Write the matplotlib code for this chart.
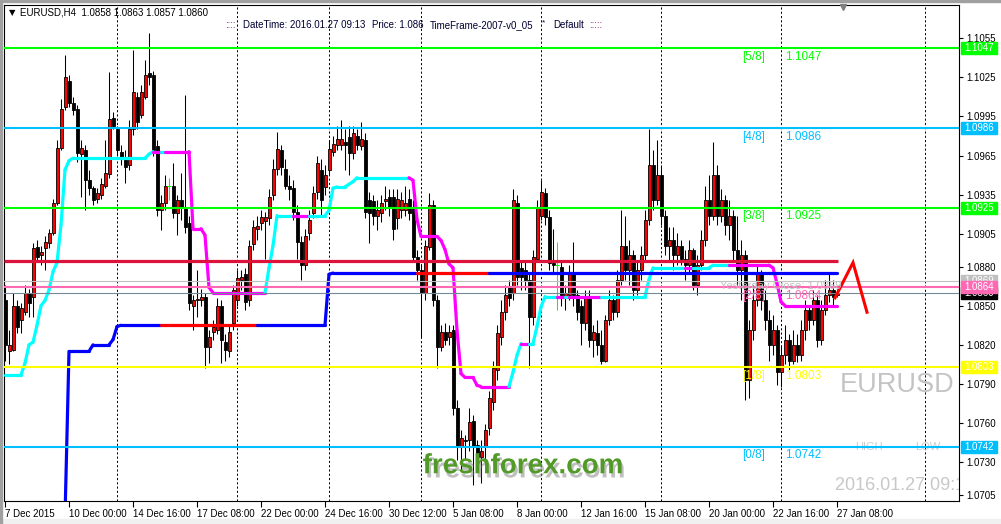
import numpy as np
import matplotlib
matplotlib.use('Agg')
import matplotlib.pyplot as plt
import matplotlib.patheffects as pe
from matplotlib.collections import LineCollection
from matplotlib.patches import Rectangle

plt.rcParams['font.family'] = ['Liberation Sans', 'DejaVu Sans']

W, H = 1001, 524

# EURUSD H4 candles, prices in pips (x 1e-4)
opens = [
    10854, 10815, 10816, 10850, 10839, 10845, 10860, 10857, 10895, 10889,
    10894, 10898, 10906, 10929, 10971, 11002, 11022, 11005, 11001, 10966,
    10969, 10946, 10940, 10932, 10935, 10942, 10951, 10994, 10985, 10968,
    10963, 10958, 10985, 11010, 10996, 11010, 11028, 11027, 10972, 10923,
    10929, 10942, 10942, 10921, 10931, 10925, 10913, 10850, 10854, 10854,
    10857, 10818, 10830, 10831, 10850, 10822, 10815, 10837, 10854, 10870,
    10874, 10854, 10897, 10909, 10913, 10915, 10917, 10935, 10955, 10969,
    10955, 10942, 10940, 10922, 10899, 10881, 10906, 10921, 10937, 10954,
    10941, 10954, 10968, 10973, 10973, 10975, 10979, 10967, 10980, 10972,
    10977, 10931, 10930, 10919, 10921, 10930, 10933, 10933, 10917, 10923,
    10923, 10932, 10925, 10887, 10877, 10860, 10895, 10927, 10854, 10818,
    10830, 10826, 10831, 10772, 10742, 10747, 10747, 10762, 10743, 10734,
    10742, 10756, 10776, 10801, 10826, 10845, 10864, 10860, 10929, 10879,
    10877, 10870, 10841, 10886, 10919, 10936, 10918, 10883, 10881, 10880,
    10856, 10858, 10874, 10858, 10850, 10837, 10857, 10824, 10829, 10820,
    10808, 10839, 10854, 10845, 10870, 10896, 10877, 10889, 10862, 10877,
    10889, 10916, 10958, 10931, 10950, 10919, 10896, 10900, 10889, 10896,
    10886, 10881, 10893, 10866, 10881, 10900, 10931, 10919, 10950, 10919,
    10931, 10912, 10919, 10893, 10877, 10889, 10793, 10831, 10854, 10874,
    10854, 10839, 10820, 10831, 10799, 10812, 10824, 10808, 10820, 10812,
    10831, 10847, 10839, 10854, 10824, 10847, 10858, 10862, 10858]
highs = [
    10866, 10831, 10860, 10854, 10852, 10866, 10863, 10898, 10900, 10896,
    10903, 10909, 10932, 10977, 11008, 11042, 11027, 11010, 11004, 10977,
    10973, 10954, 10942, 10940, 10948, 10977, 11029, 10998, 10988, 10973,
    10969, 10992, 11046, 11014, 11019, 11038, 11059, 11030, 10977, 10935,
    10950, 10948, 10959, 10935, 10952, 11011, 10919, 10858, 10877, 10863,
    10860, 10831, 10839, 10856, 10854, 10828, 10835, 10866, 10877, 10877,
    10879, 10900, 10916, 10919, 10923, 10922, 10939, 10962, 10983, 10973,
    10962, 10950, 10946, 10927, 10903, 10909, 10923, 10942, 10965, 10962,
    10958, 10977, 10980, 10988, 10992, 10985, 10988, 10988, 10985, 10991,
    10982, 10937, 10935, 10931, 10935, 10942, 10939, 10939, 10939, 10937,
    10942, 10939, 10931, 10893, 10881, 10900, 10936, 10931, 10858, 10835,
    10837, 10835, 10835, 10778, 10755, 10751, 10772, 10766, 10747, 10747,
    10759, 10785, 10808, 10835, 10854, 10866, 10870, 10939, 10935, 10885,
    10884, 10876, 10893, 10931, 10946, 10940, 10923, 10909, 10899, 10885,
    10866, 10881, 10899, 10862, 10854, 10862, 10862, 10835, 10839, 10831,
    10843, 10862, 10858, 10877, 10923, 10919, 10900, 10893, 10885, 10896,
    10923, 10985, 10969, 10977, 10958, 10923, 10910, 10910, 10906, 10900,
    10893, 10900, 10894, 10889, 10908, 10942, 10950, 10975, 10958, 10939,
    10935, 10931, 10923, 10919, 10900, 10893, 10839, 10866, 10881, 10877,
    10862, 10847, 10843, 10835, 10820, 10835, 10828, 10831, 10828, 10839,
    10854, 10850, 10862, 10858, 10854, 10870, 10874, 10870, 10863]
lows = [
    10808, 10805, 10815, 10829, 10829, 10843, 10841, 10841, 10884, 10881,
    10877, 10894, 10904, 10927, 10969, 11000, 11002, 10996, 10960, 10933,
    10923, 10935, 10927, 10929, 10932, 10940, 10948, 10985, 10965, 10958,
    10944, 10954, 10981, 10985, 10994, 11008, 11019, 10965, 10919, 10908,
    10923, 10931, 10917, 10904, 10916, 10906, 10847, 10831, 10841, 10850,
    10802, 10806, 10824, 10828, 10806, 10808, 10811, 10831, 10850, 10862,
    10847, 10850, 10893, 10900, 10908, 10886, 10912, 10931, 10950, 10950,
    10939, 10931, 10916, 10886, 10870, 10877, 10900, 10917, 10932, 10919,
    10935, 10950, 10965, 10969, 10969, 10954, 10950, 10962, 10969, 10969,
    10917, 10898, 10912, 10908, 10914, 10923, 10919, 10900, 10909, 10917,
    10919, 10916, 10884, 10870, 10826, 10854, 10893, 10850, 10802, 10815,
    10820, 10820, 10766, 10732, 10724, 10732, 10739, 10713, 10724, 10714,
    10732, 10751, 10770, 10793, 10820, 10839, 10850, 10854, 10866, 10862,
    10862, 10802, 10835, 10884, 10916, 10912, 10877, 10874, 10847, 10850,
    10847, 10854, 10850, 10839, 10820, 10831, 10818, 10811, 10812, 10805,
    10807, 10835, 10839, 10841, 10866, 10870, 10866, 10854, 10858, 10870,
    10885, 10912, 10923, 10927, 10912, 10889, 10885, 10877, 10881, 10881,
    10870, 10874, 10862, 10858, 10877, 10896, 10912, 10916, 10912, 10914,
    10904, 10900, 10885, 10866, 10854, 10778, 10779, 10824, 10850, 10847,
    10831, 10808, 10812, 10789, 10788, 10805, 10801, 10805, 10807, 10808,
    10824, 10831, 10835, 10818, 10820, 10843, 10853, 10850, 10857]
closes = [
    10820, 10820, 10850, 10834, 10848, 10860, 10852, 10894, 10887, 10891,
    10899, 10906, 10929, 10971, 11001, 11025, 11005, 11000, 10967, 10971,
    10946, 10940, 10931, 10936, 10943, 10952, 10993, 10988, 10969, 10963,
    10956, 10985, 11014, 10991, 11014, 11027, 11025, 10969, 10923, 10929,
    10942, 10942, 10921, 10931, 10925, 10910, 10852, 10854, 10855, 10857,
    10818, 10826, 10834, 10850, 10824, 10816, 10830, 10862, 10871, 10872,
    10853, 10896, 10910, 10911, 10918, 10918, 10933, 10955, 10970, 10956,
    10942, 10939, 10922, 10899, 10881, 10903, 10916, 10936, 10959, 10931,
    10950, 10970, 10974, 10978, 10978, 10973, 10967, 10982, 10973, 10978,
    10922, 10921, 10919, 10923, 10929, 10932, 10925, 10909, 10932, 10931,
    10929, 10921, 10887, 10877, 10860, 10896, 10927, 10854, 10818, 10830,
    10824, 10830, 10772, 10742, 10749, 10746, 10761, 10742, 10734, 10739,
    10755, 10779, 10802, 10829, 10845, 10858, 10856, 10931, 10872, 10872,
    10870, 10841, 10887, 10925, 10937, 10918, 10883, 10881, 10881, 10858,
    10860, 10874, 10858, 10845, 10837, 10856, 10824, 10830, 10820, 10808,
    10839, 10854, 10845, 10870, 10896, 10877, 10889, 10862, 10877, 10889,
    10916, 10958, 10931, 10950, 10919, 10896, 10900, 10889, 10896, 10886,
    10881, 10893, 10866, 10881, 10900, 10931, 10919, 10950, 10919, 10931,
    10912, 10919, 10893, 10877, 10889, 10793, 10831, 10854, 10874, 10854,
    10839, 10820, 10831, 10799, 10812, 10824, 10808, 10820, 10812, 10831,
    10847, 10839, 10854, 10824, 10847, 10858, 10862, 10857, 10860]

# trailing line (cyan = up, magenta = down), pips per bar
trend_vals = ([10797] * 5 + [10806, 10820, 10822, 10835, 10850, 10854, 10862, 10876, 10883, 10912, 10954, 10961]
              + [10963] * 19 + [10966] + [10968] * 10 + [10909] * 3 + [10904, 10864] + [10860] * 14
              + [10879, 10896] + [10919] * 13 + [10923, 10940] + [10941] * 3 + [10943, 10945] + [10948] * 14
              + [10946, 10916] + [10903] * 5 + [10900, 10893, 10882, 10879, 10831, 10798] + [10795] * 3
              + [10789] + [10788] * 8 + [10799, 10812] + [10821] * 4 + [10834, 10849] + [10857] * 26
              + [10870] + [10879] * 15 + [10881] * 15 + [10879, 10867, 10853] + [10850] * 14)
trend_cols = ('c' * 38 + 'm' * 2 + 'c' + 'm' * 25 + 'c' * 7 + 'm' * 4 + 'c' * 25 + 'm' * 25 + 'c' * 3
              + 'm' * 2 + 'c' * 7 + 'm' * 2 + 'c' + 'm' * 8 + 'c' * 21 + 'm' * 2 + 'c' * 9 + 'm' * 27)

# stop line (blue / red)
stop_vals = ([np.nan] * 15 + [10688] + [10815] * 6 + [10820] * 5 + [10824, 10834] + [10835] * 52
             + [10874] + [10875] * 127)
stop_cols = 'b' * 40 + 'r' * 24 + 'b' * 40 + 'r' * 18 + 'b' * 87

zig_bars = [207.5, 212, 215.5]
zig_prices = [1.0856, 1.0883, 1.0845]

murrey_names = ['[5/8]', '[4/8]', '[3/8]', '[2/8]', '[1/8]', '[0/8]']
murrey_levels = [1.1047, 1.0986, 1.0925, 1.0864, 1.0803, 1.0742]
murrey_colors = ['#00ff00', '#00bfff', '#00ff00', '#ff69b4', '#ffff00', '#00bfff']
pivot_level = 1.0884
yesterday_close = 1.0869
bid = 1.0860

price_ticks = [1.1055, 1.1025, 1.0995, 1.0965, 1.0935, 1.0905, 1.0880,
               1.0850, 1.0820, 1.0790, 1.0760, 1.0730, 1.0705]
time_labels = ['7 Dec 2015', '10 Dec 00:00', '14 Dec 16:00', '17 Dec 08:00', '22 Dec 00:00',
               '24 Dec 16:00', '30 Dec 12:00', '5 Jan 08:00', '8 Jan 00:00', '12 Jan 16:00',
               '15 Jan 08:00', '20 Jan 00:00', '22 Jan 16:00', '27 Jan 08:00']
grid_bars = [28, 58, 81, 104, 134, 164, 194, 230]

o = np.array(opens) / 1e4
h = np.array(highs) / 1e4
l = np.array(lows) / 1e4
c = np.array(closes) / 1e4
x = np.arange(len(o))

fig = plt.figure(figsize=(W / 100, H / 100), dpi=100)
fig.patches.append(Rectangle((0, 0), 1, 5 / H, transform=fig.transFigure, color='#f0f0f0'))
fig.patches.append(Rectangle((0, 0), 2 / W, 1, transform=fig.transFigure, color='#a0a0a0'))
fig.patches.append(Rectangle((0, 1 - 2 / H), 1, 2 / H, transform=fig.transFigure, color='#a0a0a0'))

ax = fig.add_axes([4 / W, 1 - 501 / H, 955 / W, 496 / H])
ax.set_xlim(-0.25, 238.5)
ax.set_ylim(1.07004, 1.10803)
for s in ax.spines.values():
    s.set_linewidth(0.8)
    s.set_color('black')

for b in grid_bars:
    ax.axvline(b, color='black', lw=0.7, ls=(0, (2.2, 2.2)), zorder=1)

# candles
up = c > o
dn = c < o
dj = c == o
ax.vlines(x[~dj], l[~dj], h[~dj], color='black', lw=0.75, zorder=2)
ax.bar(x[up], (c - o)[up], bottom=o[up], width=0.75, color='red', edgecolor='black', lw=0.6, zorder=3)
ax.bar(x[dn], (o - c)[dn], bottom=c[dn], width=0.75, color='black', edgecolor='black', lw=0.6, zorder=3)
ax.vlines(x[dj], l[dj], h[dj], color='#00ff00', lw=0.75, zorder=3)
ax.hlines(c[dj], x[dj] - 0.45, x[dj] + 0.45, color='#00ff00', lw=0.75, zorder=3)


def colored_line(vals, flags, cmap, lw, z):
    v = np.array(vals, float) / 1e4
    segs, cols = [], []
    for i in range(len(v) - 1):
        if np.isnan(v[i]) or np.isnan(v[i + 1]):
            continue
        segs.append([(i, v[i]), (i + 1, v[i + 1])])
        cols.append(cmap[flags[i + 1]])
    ax.add_collection(LineCollection(segs, colors=cols, linewidths=lw, zorder=z, capstyle='round'))


colored_line(trend_vals, trend_cols, {'c': '#00ffff', 'm': '#ff00ff'}, 2.3, 4)
colored_line(stop_vals, stop_cols, {'b': '#0000ff', 'r': '#ff0000'}, 2.3, 4.1)

# horizontal levels
ax.axhline(yesterday_close, color='#c0c0c0', lw=0.8, zorder=5)
ax.axhline(bid, color='#778899', lw=0.8, zorder=5)
for lev, col in zip(murrey_levels, murrey_colors):
    ax.axhline(lev, color=col, lw=1.5, zorder=5)
ax.hlines(pivot_level, -0.25, 208.25, color='#dc143c', lw=2.3, zorder=5.2)
ax.plot(zig_bars, zig_prices, color='#ff0000', lw=2.2, zorder=6, solid_joinstyle='miter')

ax.text(178.75, 1.0865, 'Yesterday Close: 1.0869', color='#c0c0c0', fontsize=8, va='center', zorder=6)
for name, lev, col in zip(murrey_names, murrey_levels, murrey_colors):
    ax.text(184.25, lev - 0.0002, name, color=col, fontsize=8.5, va='top', ha='left', zorder=7)
    ax.text(195, lev - 0.0002, f'{lev:.4f}', color=col, fontsize=8.5, va='top', ha='left', zorder=7)

ax.text(222.9, 1.0789, 'EURUSD', color='#c4c4c4', fontsize=19.5, ha='center', va='center', zorder=6)
ax.text(212.5, 1.0742, 'HIGH', color='#cccccc', fontsize=8, ha='left', va='center', zorder=4.5)
ax.text(227.5, 1.0742, 'LOW', color='#cccccc', fontsize=8, ha='left', va='center', zorder=4.5)
ax.text(207.5, 1.0712, '2016.01.27 09:13', color='#c8c8c8', fontsize=13, ha='left', va='center',
        zorder=6, clip_on=True)
ax.text(129.5, 1.0727, 'freshforex.com', color='#519a28', fontsize=20, fontweight='bold',
        ha='center', va='center', zorder=8,
        path_effects=[pe.SimplePatchShadow(offset=(1.5, -3), shadow_rgbFace='#808080', alpha=0.5),
                      pe.Normal()])
ax.plot([209.5], [1.10788], marker='v', color='#808080', ms=5, clip_on=False, zorder=9)

# axes ticks
ax.yaxis.tick_right()
ax.set_yticks(price_ticks)
ax.set_yticklabels([f'{p:.4f}' for p in price_ticks])
ax.tick_params(axis='y', direction='out', length=3, width=0.8, pad=2, labelsize=7)
ax.set_xticks(np.arange(0, len(o), 16))
ax.set_xticklabels(time_labels)
ax.tick_params(axis='x', direction='out', length=4, width=0.8, pad=1.5, labelsize=7)
for lbl in ax.get_xticklabels():
    lbl.set_ha('left')

# price boxes on the right scale
tr = ax.get_yaxis_transform()
bw = 36 / 955
px_h = 1 / 13056
boxes = [(1.1047, '#00ff00'), (1.0986, '#00bfff'), (1.0925, '#00ff00'), (1.0869, '#c0c0c0'),
         (1.0860, 'black'), (1.0864, '#ff69b4'), (1.0803, '#ffff00'), (1.0742, '#00bfff')]
for k, (p, col) in enumerate(boxes):
    ax.add_patch(Rectangle((957 / 955, p - 6 * px_h), bw, 12 * px_h, transform=tr, color=col,
                           clip_on=False, zorder=10 + k))
    ax.text(957 / 955 + bw / 2, p, f'{p:.4f}', transform=tr, color='white', ha='center', va='center',
            fontsize=7, clip_on=False, zorder=10.5 + k)

# header
fx = lambda v: v / W
fy = lambda v: 1 - v / H
fig.text(fx(9), fy(12.5), '▼', fontsize=6, va='center', family=['DejaVu Sans'])
fig.text(fx(20), fy(12.5), 'EURUSD,H4  1.0858 1.0863 1.0857 1.0860', fontsize=7, va='center')
fig.text(fx(225), fy(25.5), '::::', fontsize=7, va='center', color='#800080')
fig.text(fx(243), fy(25.5), 'DateTime: 2016.01.27 09:13', fontsize=7, va='center', color='#000033')
fig.text(fx(372), fy(25.5), 'Price: 1.086', fontsize=7, va='center', color='#000033')
fig.text(fx(430), fy(25.5), 'TimeFrame-2007-v0_05', fontsize=7, va='center', color='#000033')
fig.text(fx(542), fy(23), '*', fontsize=6, va='center', color='#000033')
fig.text(fx(553), fy(25.5), 'Default', fontsize=7, va='center', color='#000033')
fig.text(fx(589), fy(25.5), ':::::', fontsize=7, va='center', color='#800080')

fig.savefig('out.png', dpi=100)
